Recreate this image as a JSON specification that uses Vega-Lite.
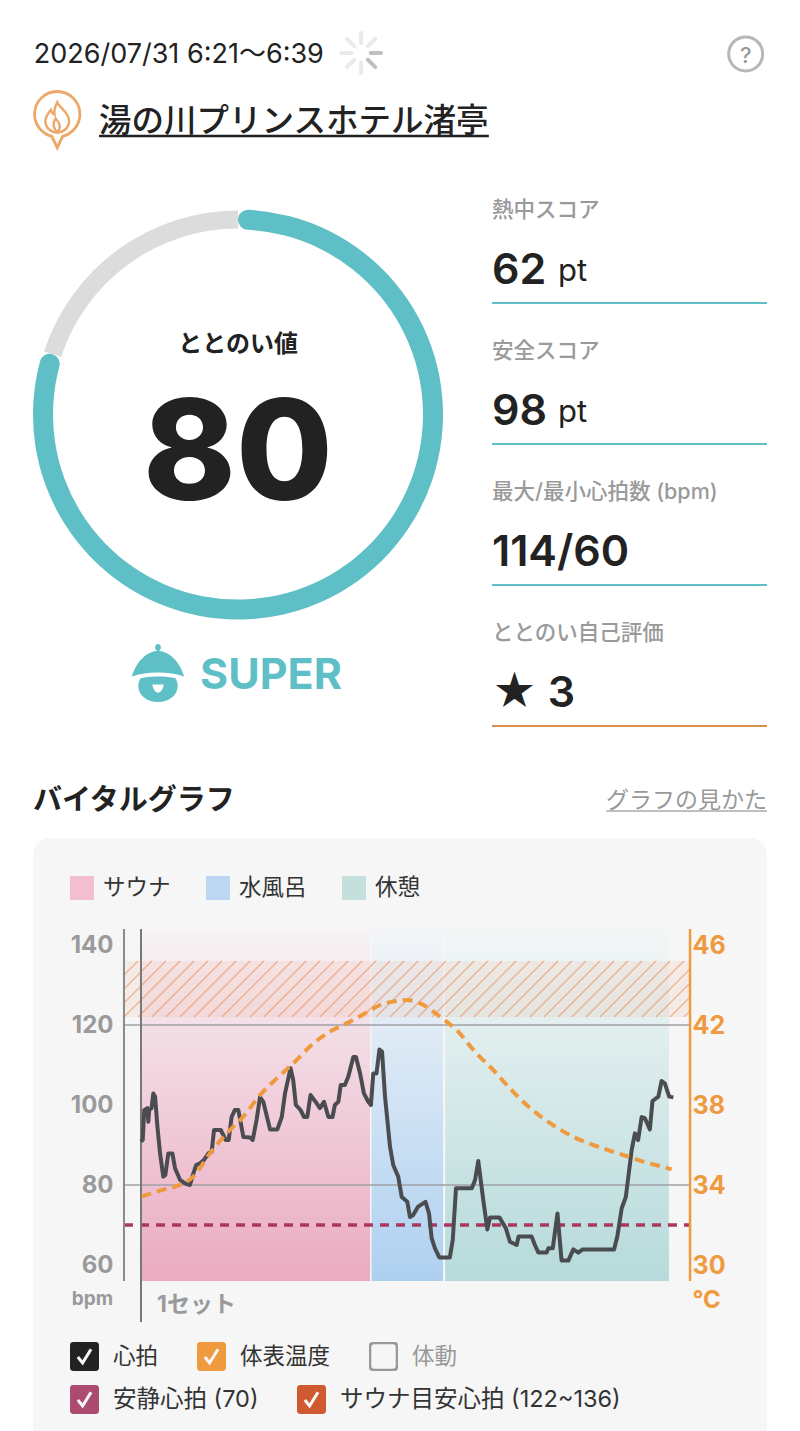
{
  "$schema": "https://vega.github.io/schema/vega-lite/v6.json",
  "background": "#ffffff",
  "padding": {"left": 28, "right": 38, "top": 0, "bottom": 0},
  "bounds": "flush",
  "spacing": 0,
  "config": {
    "font": "Inter, 'Noto Sans CJK JP'",
    "view": {"stroke": null},
    "axis": {"disable": true}
  },
  "datasets": {
    "bands": [
      {"phase": "サウナ", "start": 0, "end": 7.81},
      {"phase": "水風呂", "start": 7.86, "end": 10.3},
      {"phase": "休憩", "start": 10.37, "end": 18.0}
    ],
    "hatch": [
      {"m1": -0.58, "b1": 132.5, "m2": -0.1, "b2": 136},
      {"m1": -0.58, "b1": 129, "m2": 0.37, "b2": 136},
      {"m1": -0.58, "b1": 125.5, "m2": 0.85, "b2": 136},
      {"m1": -0.58, "b1": 122, "m2": 1.33, "b2": 136},
      {"m1": -0.1, "b1": 122, "m2": 1.81, "b2": 136},
      {"m1": 0.37, "b1": 122, "m2": 2.28, "b2": 136},
      {"m1": 0.85, "b1": 122, "m2": 2.76, "b2": 136},
      {"m1": 1.33, "b1": 122, "m2": 3.24, "b2": 136},
      {"m1": 1.81, "b1": 122, "m2": 3.72, "b2": 136},
      {"m1": 2.28, "b1": 122, "m2": 4.19, "b2": 136},
      {"m1": 2.76, "b1": 122, "m2": 4.67, "b2": 136},
      {"m1": 3.24, "b1": 122, "m2": 5.15, "b2": 136},
      {"m1": 3.72, "b1": 122, "m2": 5.63, "b2": 136},
      {"m1": 4.19, "b1": 122, "m2": 6.1, "b2": 136},
      {"m1": 4.67, "b1": 122, "m2": 6.58, "b2": 136},
      {"m1": 5.15, "b1": 122, "m2": 7.06, "b2": 136},
      {"m1": 5.63, "b1": 122, "m2": 7.54, "b2": 136},
      {"m1": 6.1, "b1": 122, "m2": 8.01, "b2": 136},
      {"m1": 6.58, "b1": 122, "m2": 8.49, "b2": 136},
      {"m1": 7.06, "b1": 122, "m2": 8.97, "b2": 136},
      {"m1": 7.54, "b1": 122, "m2": 9.45, "b2": 136},
      {"m1": 8.01, "b1": 122, "m2": 9.92, "b2": 136},
      {"m1": 8.49, "b1": 122, "m2": 10.4, "b2": 136},
      {"m1": 8.97, "b1": 122, "m2": 10.88, "b2": 136},
      {"m1": 9.45, "b1": 122, "m2": 11.36, "b2": 136},
      {"m1": 9.92, "b1": 122, "m2": 11.83, "b2": 136},
      {"m1": 10.4, "b1": 122, "m2": 12.31, "b2": 136},
      {"m1": 10.88, "b1": 122, "m2": 12.79, "b2": 136},
      {"m1": 11.35, "b1": 122, "m2": 13.26, "b2": 136},
      {"m1": 11.83, "b1": 122, "m2": 13.74, "b2": 136},
      {"m1": 12.31, "b1": 122, "m2": 14.22, "b2": 136},
      {"m1": 12.78, "b1": 122, "m2": 14.69, "b2": 136},
      {"m1": 13.26, "b1": 122, "m2": 15.17, "b2": 136},
      {"m1": 13.74, "b1": 122, "m2": 15.65, "b2": 136},
      {"m1": 14.22, "b1": 122, "m2": 16.13, "b2": 136},
      {"m1": 14.69, "b1": 122, "m2": 16.6, "b2": 136},
      {"m1": 15.17, "b1": 122, "m2": 17.08, "b2": 136},
      {"m1": 15.65, "b1": 122, "m2": 17.56, "b2": 136},
      {"m1": 16.13, "b1": 122, "m2": 18.04, "b2": 136},
      {"m1": 16.6, "b1": 122, "m2": 18.51, "b2": 136},
      {"m1": 17.08, "b1": 122, "m2": 18.72, "b2": 134},
      {"m1": 17.56, "b1": 122, "m2": 18.72, "b2": 130.5},
      {"m1": 18.04, "b1": 122, "m2": 18.72, "b2": 127},
      {"m1": 18.51, "b1": 122, "m2": 18.72, "b2": 123.5}
    ],
    "heart": [
      {"minute": 0, "bpm": 90.8}, {"minute": 0.06, "bpm": 91.3}, {"minute": 0.11, "bpm": 98.75}, {"minute": 0.22, "bpm": 99.2},
      {"minute": 0.25, "bpm": 95.8}, {"minute": 0.28, "bpm": 98.75}, {"minute": 0.36, "bpm": 99.2}, {"minute": 0.42, "bpm": 102.9},
      {"minute": 0.48, "bpm": 102.1}, {"minute": 0.56, "bpm": 94.6}, {"minute": 0.65, "bpm": 87.9}, {"minute": 0.76, "bpm": 82.1},
      {"minute": 0.83, "bpm": 82.5}, {"minute": 0.93, "bpm": 87.9}, {"minute": 1.07, "bpm": 87.9}, {"minute": 1.16, "bpm": 84.2},
      {"minute": 1.33, "bpm": 81.3}, {"minute": 1.5, "bpm": 80.4}, {"minute": 1.67, "bpm": 80}, {"minute": 1.75, "bpm": 82.1},
      {"minute": 1.88, "bpm": 85}, {"minute": 2.01, "bpm": 85.4}, {"minute": 2.15, "bpm": 86.3}, {"minute": 2.3, "bpm": 87.9},
      {"minute": 2.41, "bpm": 88.3}, {"minute": 2.49, "bpm": 93.75}, {"minute": 2.72, "bpm": 93.75}, {"minute": 2.89, "bpm": 91.25},
      {"minute": 2.99, "bpm": 91.25}, {"minute": 3.09, "bpm": 97}, {"minute": 3.2, "bpm": 98.75}, {"minute": 3.32, "bpm": 98.75},
      {"minute": 3.49, "bpm": 92}, {"minute": 3.72, "bpm": 91.9}, {"minute": 3.81, "bpm": 91.25}, {"minute": 3.94, "bpm": 96.25},
      {"minute": 4.06, "bpm": 102}, {"minute": 4.17, "bpm": 100.8}, {"minute": 4.4, "bpm": 93.9}, {"minute": 4.65, "bpm": 93.9},
      {"minute": 4.8, "bpm": 97}, {"minute": 4.91, "bpm": 102.9}, {"minute": 5.1, "bpm": 109.2}, {"minute": 5.19, "bpm": 106.25},
      {"minute": 5.28, "bpm": 100}, {"minute": 5.44, "bpm": 98.75}, {"minute": 5.56, "bpm": 97}, {"minute": 5.67, "bpm": 97},
      {"minute": 5.78, "bpm": 102.5}, {"minute": 5.99, "bpm": 100.4}, {"minute": 6.1, "bpm": 99.2}, {"minute": 6.24, "bpm": 100.8},
      {"minute": 6.39, "bpm": 97}, {"minute": 6.53, "bpm": 97}, {"minute": 6.61, "bpm": 100}, {"minute": 6.73, "bpm": 100.8},
      {"minute": 6.81, "bpm": 105}, {"minute": 6.95, "bpm": 105}, {"minute": 7.07, "bpm": 107.1}, {"minute": 7.24, "bpm": 112},
      {"minute": 7.33, "bpm": 112}, {"minute": 7.47, "bpm": 107.9}, {"minute": 7.6, "bpm": 102.9}, {"minute": 7.75, "bpm": 100.8},
      {"minute": 7.84, "bpm": 100}, {"minute": 7.92, "bpm": 107.9}, {"minute": 8.03, "bpm": 107.9}, {"minute": 8.13, "bpm": 113.9},
      {"minute": 8.22, "bpm": 113.3}, {"minute": 8.32, "bpm": 102.1}, {"minute": 8.49, "bpm": 89.6}, {"minute": 8.6, "bpm": 85},
      {"minute": 8.77, "bpm": 82.1}, {"minute": 8.89, "bpm": 77}, {"minute": 9.08, "bpm": 75.8}, {"minute": 9.17, "bpm": 72},
      {"minute": 9.28, "bpm": 72.5}, {"minute": 9.45, "bpm": 74.6}, {"minute": 9.7, "bpm": 75.8}, {"minute": 9.82, "bpm": 72.9},
      {"minute": 9.91, "bpm": 66.7}, {"minute": 10.02, "bpm": 64.2}, {"minute": 10.17, "bpm": 61.9}, {"minute": 10.53, "bpm": 61.9},
      {"minute": 10.63, "bpm": 66.25}, {"minute": 10.74, "bpm": 79.2}, {"minute": 11.28, "bpm": 79.2}, {"minute": 11.39, "bpm": 81.25},
      {"minute": 11.5, "bpm": 86}, {"minute": 11.67, "bpm": 76.25}, {"minute": 11.81, "bpm": 68.9}, {"minute": 11.9, "bpm": 71.9},
      {"minute": 12.22, "bpm": 71.9}, {"minute": 12.44, "bpm": 69.2}, {"minute": 12.58, "bpm": 65.8}, {"minute": 12.81, "bpm": 65},
      {"minute": 12.87, "bpm": 67.1}, {"minute": 13.32, "bpm": 67.1}, {"minute": 13.43, "bpm": 65}, {"minute": 13.55, "bpm": 63.1},
      {"minute": 13.83, "bpm": 63.1}, {"minute": 13.89, "bpm": 64.2}, {"minute": 14.04, "bpm": 64.2}, {"minute": 14.2, "bpm": 72.9},
      {"minute": 14.34, "bpm": 61.1}, {"minute": 14.57, "bpm": 61.1}, {"minute": 14.74, "bpm": 63.9}, {"minute": 14.91, "bpm": 63.1},
      {"minute": 15.06, "bpm": 63.9}, {"minute": 16.13, "bpm": 63.9}, {"minute": 16.24, "bpm": 67.1}, {"minute": 16.39, "bpm": 74.2},
      {"minute": 16.53, "bpm": 77}, {"minute": 16.73, "bpm": 88.75}, {"minute": 16.84, "bpm": 92.9}, {"minute": 16.95, "bpm": 91.25},
      {"minute": 17.07, "bpm": 97}, {"minute": 17.18, "bpm": 96.7}, {"minute": 17.35, "bpm": 93.9}, {"minute": 17.44, "bpm": 101},
      {"minute": 17.64, "bpm": 102.1}, {"minute": 17.75, "bpm": 106}, {"minute": 17.86, "bpm": 105.4}, {"minute": 18.01, "bpm": 102.1},
      {"minute": 18.15, "bpm": 101.9}
    ],
    "skin": [
      {"minute": 0.02, "temp": 33.42}, {"minute": 0.65, "temp": 33.72}, {"minute": 1.16, "temp": 33.92}, {"minute": 1.78, "temp": 34.42},
      {"minute": 2.35, "temp": 35.58}, {"minute": 2.92, "temp": 36.58}, {"minute": 3.49, "temp": 37.42}, {"minute": 4.06, "temp": 38.5},
      {"minute": 4.63, "temp": 39.33}, {"minute": 5.19, "temp": 40.08}, {"minute": 5.88, "temp": 41.08}, {"minute": 6.44, "temp": 41.67},
      {"minute": 7.01, "temp": 42.08}, {"minute": 7.81, "temp": 42.72}, {"minute": 8.15, "temp": 43}, {"minute": 8.6, "temp": 43.17},
      {"minute": 9.06, "temp": 43.25}, {"minute": 9.63, "temp": 43}, {"minute": 10.19, "temp": 42.42}, {"minute": 10.76, "temp": 41.75},
      {"minute": 11.44, "temp": 40.58}, {"minute": 12.01, "temp": 39.75}, {"minute": 12.58, "temp": 38.83}, {"minute": 13.15, "temp": 38},
      {"minute": 13.72, "temp": 37.33}, {"minute": 14.28, "temp": 36.78}, {"minute": 14.85, "temp": 36.33}, {"minute": 15.42, "temp": 36},
      {"minute": 15.98, "temp": 35.72}, {"minute": 16.55, "temp": 35.45}, {"minute": 17.11, "temp": 35.17}, {"minute": 17.68, "temp": 34.95},
      {"minute": 18.09, "temp": 34.78}
    ]
  },
  "vconcat": [
    {
      "width": 734,
      "height": 162,
      "data": {"values": [{"date": "2026/07/31 6:21〜6:39", "venue": "湯の川プリンスホテル渚亭"}]},
      "layer": [
        {
          "mark": {"type": "text", "align": "left", "baseline": "middle", "fontSize": 27, "color": "#222222"},
          "encoding": {
            "x": {"datum": 0.001, "type": "quantitative", "scale": {"domain": [0, 1], "nice": false, "zero": false}},
            "y": {"datum": 0.34, "type": "quantitative", "scale": {"domain": [0, 1], "nice": false, "zero": false, "reverse": true}},
            "text": {"field": "date"}
          }
        },
        {
          "mark": {"type": "point", "filled": false, "size": 6400, "stroke": "#e2e2e2", "strokeWidth": 4, "strokeCap": "round", "shape": "M0,-.24L0,-.5M-.24,0L-.5,0M0,.24L0,.5M-.17,-.17L-.354,-.354M-.17,.17L-.354,.354M.17,-.17L.354,-.354"},
          "encoding": {"x": {"datum": 0.447, "type": "quantitative"}, "y": {"datum": 0.327, "type": "quantitative"}}
        },
        {
          "mark": {"type": "point", "filled": false, "size": 6400, "stroke": "#a6a6a6", "strokeWidth": 4, "strokeCap": "round", "shape": "M.24,0L.5,0M.17,.17L.354,.354"},
          "encoding": {"x": {"datum": 0.447, "type": "quantitative"}, "y": {"datum": 0.327, "type": "quantitative"}}
        },
        {
          "mark": {"type": "point", "shape": "circle", "filled": false, "size": 1156, "stroke": "#999999", "strokeWidth": 3},
          "encoding": {"x": {"datum": 0.971, "type": "quantitative"}, "y": {"datum": 0.333, "type": "quantitative"}}
        },
        {
          "mark": {"type": "text", "text": "?", "fontSize": 22, "fontWeight": 500, "color": "#999999", "baseline": "middle"},
          "encoding": {"x": {"datum": 0.971, "type": "quantitative"}, "y": {"datum": 0.345, "type": "quantitative"}}
        },
        {
          "mark": {"type": "point", "filled": false, "size": 11664, "stroke": "#e5822a", "strokeWidth": 2.8, "shape": "M-.42,-.1C-.42,-.332 -.232,-.52 0,-.52C.232,-.52 .42,-.332 .42,-.1C.42,.1 .28,.26 .1,.31L0,.52L-.1,.31C-.28,.26 -.42,.1 -.42,-.1Z"},
          "encoding": {"x": {"datum": 0.033, "type": "quantitative"}, "y": {"datum": 0.738, "type": "quantitative"}}
        },
        {
          "mark": {"type": "point", "filled": false, "size": 11664, "stroke": "#e5822a", "strokeWidth": 2.4, "shape": "M0,-.32C.05,-.2 .22,-.14 .22,.03C.22,.16 .1,.24 0,.24C-.1,.24 -.22,.16 -.22,.03C-.22,-.06 -.16,-.12 -.12,-.18C-.1,-.12 -.07,-.1 -.05,-.09C-.07,-.18 -.03,-.26 0,-.32ZM0,.24C-.08,.14 -.09,.08 -.03,-.02C.06,.07 .07,.16 0,.24Z"},
          "encoding": {"x": {"datum": 0.033, "type": "quantitative"}, "y": {"datum": 0.738, "type": "quantitative"}}
        },
        {
          "mark": {"type": "text", "align": "left", "baseline": "middle", "fontSize": 32.5, "fontWeight": 500, "color": "#222222"},
          "encoding": {"x": {"datum": 0.09, "type": "quantitative"}, "y": {"datum": 0.753, "type": "quantitative"}, "text": {"field": "venue"}}
        },
        {
          "mark": {"type": "rule", "color": "#222222", "strokeWidth": 2.5},
          "encoding": {"x": {"datum": 0.09, "type": "quantitative"}, "x2": {"datum": 0.621}, "y": {"datum": 0.84, "type": "quantitative"}}
        }
      ]
    },
    {
      "width": 734,
      "height": 564,
      "resolve": {"scale": {"y": "independent"}},
      "layer": [
        {
          "data": {"values": [{"part": "score", "from": 0, "to": 80, "score": 80, "rank": "SUPER"}, {"part": "rest", "from": 80, "to": 100, "score": 80, "rank": "SUPER"}]},
          "layer": [
            {
              "transform": [{"filter": "datum.part === 'rest'"}],
              "mark": {"type": "arc", "innerRadius": 186, "outerRadius": 204, "color": "#dcdcdc"},
              "encoding": {
                "x": {"datum": 0.2793, "type": "quantitative", "scale": {"domain": [0, 1], "nice": false, "zero": false}},
                "y": {"datum": 0.4478, "type": "quantitative", "scale": {"domain": [0, 1], "nice": false, "zero": false, "reverse": true}},
                "theta": {"field": "from", "type": "quantitative", "stack": null, "scale": {"domain": [0, 100], "range": [0, 6.2832]}},
                "theta2": {"field": "to"}
              }
            },
            {
              "transform": [{"filter": "datum.part === 'score'"}],
              "mark": {"type": "arc", "innerRadius": 185, "outerRadius": 205, "cornerRadius": 10, "color": "#5fbfc6"},
              "encoding": {
                "x": {"datum": 0.2793, "type": "quantitative"},
                "y": {"datum": 0.4478, "type": "quantitative"},
                "theta": {"field": "from", "type": "quantitative", "stack": null},
                "theta2": {"field": "to"}
              }
            },
            {
              "transform": [{"filter": "datum.part === 'score'"}],
              "mark": {"type": "text", "text": "ととのい値", "fontSize": 24, "fontWeight": 600, "color": "#222222", "baseline": "middle"},
              "encoding": {"x": {"datum": 0.2793, "type": "quantitative"}, "y": {"datum": 0.3245, "type": "quantitative"}}
            },
            {
              "transform": [{"filter": "datum.part === 'score'"}],
              "mark": {"type": "text", "fontSize": 140, "fontWeight": 800, "color": "#222222", "baseline": "middle"},
              "encoding": {"x": {"datum": 0.2793, "type": "quantitative"}, "y": {"datum": 0.5248, "type": "quantitative"}, "text": {"field": "score"}}
            },
            {
              "transform": [{"filter": "datum.part === 'score'"}],
              "mark": {"type": "point", "filled": true, "size": 13456, "color": "#5fbfc6", "opacity": 1, "shape": "M-.45,.06C-.36,-.25 -.15,-.38 0,-.38C.15,-.38 .36,-.25 .45,.06C.2,-.03 -.2,-.03 -.45,.06ZM-.3,.09C-.15,.05 .15,.05 .3,.09C.33,.14 .34,.18 .34,.22C.34,.38 .2,.5 0,.5C-.2,.5 -.34,.38 -.34,.22C-.34,.18 -.33,.14 -.3,.09ZM-.1,.2C-.08,.3 -.04,.34 0,.34C.04,.34 .08,.3 .1,.2ZM-.05,-.44C-.05,-.47 -.03,-.5 0,-.5C.03,-.5 .05,-.47 .05,-.44C.05,-.41 .03,-.38 0,-.38C-.03,-.38 -.05,-.41 -.05,-.44Z"},
              "encoding": {"x": {"datum": 0.1703, "type": "quantitative"}, "y": {"datum": 0.906, "type": "quantitative"}}
            },
            {
              "transform": [{"filter": "datum.part === 'score'"}],
              "mark": {"type": "text", "fontSize": 43, "fontWeight": 700, "color": "#5fbfc6", "baseline": "middle"},
              "encoding": {"x": {"datum": 0.3243, "type": "quantitative"}, "y": {"datum": 0.9113, "type": "quantitative"}, "text": {"field": "rank"}}
            }
          ]
        },
        {
          "data": {"values": [
            {"metric": "熱中スコア", "value": "62", "unit": "pt"},
            {"metric": "安全スコア", "value": "98", "unit": "pt"},
            {"metric": "最大/最小心拍数 (bpm)", "value": "114/60", "unit": ""},
            {"metric": "ととのい自己評価", "value": "★ 3", "unit": ""}
          ]},
          "layer": [
            {
              "mark": {"type": "text", "align": "left", "baseline": "middle", "fontSize": 21.5, "fontWeight": 500, "color": "#9a9a9a"},
              "encoding": {
                "x": {"datum": 0.6253, "type": "quantitative"},
                "y": {"field": "metric", "type": "nominal", "sort": null, "bandPosition": 0.347, "scale": {"paddingInner": 0, "paddingOuter": 0}},
                "text": {"field": "metric"}
              }
            },
            {
              "mark": {"type": "text", "align": "left", "baseline": "middle", "fontSize": 43, "fontWeight": 600, "color": "#222222"},
              "encoding": {
                "x": {"datum": 0.6253, "type": "quantitative"},
                "y": {"field": "metric", "type": "nominal", "sort": null, "bandPosition": 0.773},
                "text": {"field": "value"}
              }
            },
            {
              "transform": [{"filter": "datum.unit !== ''"}],
              "mark": {"type": "text", "align": "left", "baseline": "middle", "fontSize": 31, "color": "#222222", "dx": 66},
              "encoding": {
                "x": {"datum": 0.6253, "type": "quantitative"},
                "y": {"field": "metric", "type": "nominal", "sort": null, "bandPosition": 0.778},
                "text": {"field": "unit"}
              }
            },
            {
              "mark": {"type": "rule", "strokeWidth": 2},
              "encoding": {
                "x": {"datum": 0.6253, "type": "quantitative"},
                "x2": {"datum": 1},
                "y": {"field": "metric", "type": "nominal", "sort": null, "bandPosition": 1},
                "color": {"condition": {"test": "datum.metric === 'ととのい自己評価'", "value": "#d89050"}, "value": "#5fbfc6"}
              }
            }
          ]
        }
      ]
    },
    {
      "width": 734,
      "height": 112,
      "data": {"values": [{"section": "バイタルグラフ", "link": "グラフの見かた"}]},
      "layer": [
        {
          "mark": {"type": "text", "align": "left", "baseline": "middle", "fontSize": 29, "fontWeight": 700, "color": "#222222"},
          "encoding": {
            "x": {"datum": 0, "type": "quantitative", "scale": {"domain": [0, 1], "nice": false, "zero": false}},
            "y": {"datum": 0.67, "type": "quantitative", "scale": {"domain": [0, 1], "nice": false, "zero": false, "reverse": true}},
            "text": {"field": "section"}
          }
        },
        {
          "mark": {"type": "text", "align": "right", "baseline": "middle", "fontSize": 23, "color": "#999999"},
          "encoding": {"x": {"datum": 1, "type": "quantitative"}, "y": {"datum": 0.67, "type": "quantitative"}, "text": {"field": "link"}}
        },
        {
          "mark": {"type": "rule", "color": "#aaaaaa", "strokeWidth": 1.5},
          "encoding": {"x": {"datum": 0.781, "type": "quantitative"}, "x2": {"datum": 1}, "y": {"datum": 0.759, "type": "quantitative"}}
        }
      ]
    },
    {
      "width": 734,
      "height": 593,
      "resolve": {"scale": {"y": "independent"}},
      "layer": [
        {
          "layer": [
            {
              "data": {"values": [{"card": "バイタル"}]},
              "mark": {"type": "rect", "fill": "#f6f6f6", "cornerRadiusTopLeft": 18, "cornerRadiusTopRight": 18},
              "encoding": {
                "x": {"datum": -3.682, "type": "quantitative", "scale": {"domain": [-3.682, 21.344], "nice": false, "zero": false}},
                "x2": {"datum": 21.344},
                "y": {"datum": 18.5, "type": "quantitative", "scale": {"domain": [18.5, 166.75], "nice": false, "zero": false}},
                "y2": {"datum": 166.75}
              }
            },
            {
              "data": {"name": "bands"},
              "transform": [{"filter": "datum.phase === 'サウナ'"}],
              "mark": {"type": "rect", "fill": {"gradient": "linear", "x1": 0, "y1": 0, "x2": 0, "y2": 1, "stops": [{"offset": 0, "color": "#f6f3f5"}, {"offset": 1, "color": "#ebaac1"}]}},
              "encoding": {"x": {"field": "start", "type": "quantitative"}, "x2": {"field": "end"}, "y": {"datum": 56, "type": "quantitative"}, "y2": {"datum": 144}}
            },
            {
              "data": {"name": "bands"},
              "transform": [{"filter": "datum.phase === '水風呂'"}],
              "mark": {"type": "rect", "fill": {"gradient": "linear", "x1": 0, "y1": 0, "x2": 0, "y2": 1, "stops": [{"offset": 0, "color": "#f3f5f8"}, {"offset": 1, "color": "#aed0f0"}]}},
              "encoding": {"x": {"field": "start", "type": "quantitative"}, "x2": {"field": "end"}, "y": {"datum": 56, "type": "quantitative"}, "y2": {"datum": 144}}
            },
            {
              "data": {"name": "bands"},
              "transform": [{"filter": "datum.phase === '休憩'"}],
              "mark": {"type": "rect", "fill": {"gradient": "linear", "x1": 0, "y1": 0, "x2": 0, "y2": 1, "stops": [{"offset": 0, "color": "#f3f6f6"}, {"offset": 1, "color": "#b6dadb"}]}},
              "encoding": {"x": {"field": "start", "type": "quantitative"}, "x2": {"field": "end"}, "y": {"datum": 56, "type": "quantitative"}, "y2": {"datum": 144}}
            },
            {
              "data": {"values": [{"low": 122, "high": 136}]},
              "mark": {"type": "rect", "fill": "#ee9f72", "opacity": 0.12},
              "encoding": {"x": {"datum": -0.58, "type": "quantitative"}, "x2": {"datum": 18.72}, "y": {"field": "low", "type": "quantitative"}, "y2": {"field": "high"}}
            },
            {
              "data": {"name": "hatch"},
              "mark": {"type": "rule", "color": "#e98a55", "strokeWidth": 1.2, "opacity": 0.6},
              "encoding": {"x": {"field": "m1", "type": "quantitative"}, "x2": {"field": "m2"}, "y": {"field": "b1", "type": "quantitative"}, "y2": {"field": "b2"}}
            },
            {
              "data": {"values": [{"bpm": 80}, {"bpm": 120}]},
              "mark": {"type": "rule", "color": "#a0a0a4", "strokeWidth": 1.5},
              "encoding": {"x": {"datum": -0.58, "type": "quantitative"}, "x2": {"datum": 18.72}, "y": {"field": "bpm", "type": "quantitative"}}
            },
            {
              "data": {"values": [{"bpm": 70}]},
              "mark": {"type": "rule", "color": "#a8385c", "strokeWidth": 3.5, "strokeDash": [9, 7]},
              "encoding": {"x": {"datum": -0.58, "type": "quantitative"}, "x2": {"datum": 18.72}, "y": {"field": "bpm", "type": "quantitative"}}
            },
            {
              "data": {"values": [{"from": 56, "to": 144}]},
              "mark": {"type": "rule", "color": "#8a8a8a", "strokeWidth": 2},
              "encoding": {"x": {"datum": -0.58, "type": "quantitative"}, "y": {"field": "from", "type": "quantitative"}, "y2": {"field": "to"}}
            },
            {
              "data": {"values": [{"from": 56, "to": 144}]},
              "mark": {"type": "rule", "color": "#ef9a3e", "strokeWidth": 2.5},
              "encoding": {"x": {"datum": 18.72, "type": "quantitative"}, "y": {"field": "from", "type": "quantitative"}, "y2": {"field": "to"}}
            },
            {
              "data": {"values": [{"from": 45.75, "to": 144}]},
              "mark": {"type": "rule", "color": "#77787a", "strokeWidth": 2},
              "encoding": {"x": {"datum": 0, "type": "quantitative"}, "y": {"field": "from", "type": "quantitative"}, "y2": {"field": "to"}}
            },
            {
              "data": {"name": "heart"},
              "mark": {"type": "line", "color": "#4a4c50", "strokeWidth": 4, "strokeJoin": "round"},
              "encoding": {"x": {"field": "minute", "type": "quantitative"}, "y": {"field": "bpm", "type": "quantitative"}}
            },
            {
              "data": {"values": [{"set": "1セット", "start": 0}]},
              "mark": {"type": "text", "align": "left", "baseline": "middle", "fontSize": 23, "fontWeight": 700, "color": "#9a9a9a", "dx": 16},
              "encoding": {"x": {"field": "start", "type": "quantitative"}, "y": {"datum": 50, "type": "quantitative"}, "text": {"field": "set"}}
            },
            {
              "data": {"values": [{"phase": "サウナ"}, {"phase": "水風呂"}, {"phase": "休憩"}]},
              "mark": {"type": "point", "filled": false, "opacity": 0, "shape": "square"},
              "encoding": {
                "stroke": {
                  "field": "phase", "type": "nominal",
                  "scale": {"domain": ["サウナ", "水風呂", "休憩"], "range": ["#f3bfd0", "#bcd7f1", "#c4e0dc"]},
                  "legend": {
                    "orient": "none", "legendX": 37, "legendY": 876, "title": null, "direction": "horizontal", "columns": 3, "columnPadding": 17,
                    "symbolType": "square", "symbolSize": 144, "symbolStrokeWidth": 12, "symbolOpacity": 1,
                    "labelFontSize": 22.5, "labelColor": "#333333", "labelOffset": 9, "labelLimit": 300, "padding": 0
                  }
                }
              }
            },
            {
              "data": {"values": [{"item": "心拍"}, {"item": "体表温度"}, {"item": "体動"}]},
              "mark": {"type": "point", "filled": true, "opacity": 0, "shape": "square"},
              "encoding": {
                "color": {
                  "field": "item", "type": "nominal",
                  "scale": {"domain": ["心拍", "体表温度", "体動"], "range": ["#222222", "#ef9a3e", "#999999"]},
                  "legend": {
                    "orient": "none", "legendX": 37, "legendY": 1342, "title": null, "direction": "horizontal", "columns": 3, "columnPadding": 38,
                    "symbolSize": 841, "symbolStrokeWidth": 0, "symbolOpacity": 1,
                    "labelFontSize": 22.5, "labelOffset": 14, "labelLimit": 300, "padding": 0,
                    "labelColor": {"expr": "datum.value === '体動' ? '#999999' : '#333333'"},
                    "encode": {
                      "symbols": {
                        "update": {
                          "shape": {"signal": "datum.value === '体動' ? 'M-.76,-1L.76,-1Q1,-1 1,-.76L1,.76Q1,1 .76,1L-.76,1Q-1,1 -1,.76L-1,-.76Q-1,-1 -.76,-1ZM-.64,-.84Q-.84,-.84 -.84,-.64L-.84,.64Q-.84,.84 -.64,.84L.64,.84Q.84,.84 .84,.64L.84,-.64Q.84,-.84 .64,-.84Z' : 'M-.76,-1L.76,-1Q1,-1 1,-.76L1,.76Q1,1 .76,1L-.76,1Q-1,1 -1,.76L-1,-.76Q-1,-1 -.76,-1ZM-.54,.1L-.12,.62L.54,-.44L.36,-.56L-.14,.26L-.38,-.04Z'"}
                        }
                      }
                    }
                  }
                }
              }
            },
            {
              "data": {"values": [{"item": "安静心拍 (70)"}, {"item": "サウナ目安心拍 (122~136)"}]},
              "mark": {"type": "point", "filled": true, "opacity": 0, "shape": "M-.76,-1L.76,-1Q1,-1 1,-.76L1,.76Q1,1 .76,1L-.76,1Q-1,1 -1,.76L-1,-.76Q-1,-1 -.76,-1ZM-.54,.1L-.12,.62L.54,-.44L.36,-.56L-.14,.26L-.38,-.04Z"},
              "encoding": {
                "fill": {
                  "field": "item", "type": "nominal",
                  "scale": {"domain": ["安静心拍 (70)", "サウナ目安心拍 (122~136)"], "range": ["#ac4b6f", "#cf5a2f"]},
                  "legend": {
                    "orient": "none", "legendX": 37, "legendY": 1385, "title": null, "direction": "horizontal", "columns": 2, "columnPadding": 38,
                    "symbolType": "M-.76,-1L.76,-1Q1,-1 1,-.76L1,.76Q1,1 .76,1L-.76,1Q-1,1 -1,.76L-1,-.76Q-1,-1 -.76,-1ZM-.54,.1L-.12,.62L.54,-.44L.36,-.56L-.14,.26L-.38,-.04Z",
                    "symbolSize": 841, "symbolStrokeWidth": 0, "symbolOpacity": 1,
                    "labelFontSize": 23.5, "labelOffset": 14, "labelLimit": 400, "labelColor": "#333333", "padding": 0
                  }
                }
              }
            }
          ]
        },
        {
          "data": {"values": [{"tick": 60}, {"tick": 80}, {"tick": 100}, {"tick": 120}, {"tick": 140}]},
          "mark": {"type": "rule", "opacity": 0},
          "encoding": {
            "y": {
              "field": "tick",
              "type": "quantitative",
              "scale": {"domain": [18.5, 166.75], "nice": false, "zero": false},
              "axis": {
                "zindex": 1, "orient": "left", "values": [60, 80, 100, 120, 140], "offset": -91, "domain": false, "ticks": false, "grid": false,
                "labelPadding": 11, "labelFontSize": 24, "labelFontWeight": 700, "labelColor": "#9a9a9a",
                "title": "bpm", "titleAngle": 0, "titleX": -32, "titleY": 460, "titleAlign": "center", "titleBaseline": "middle",
                "titleFontSize": 19, "titleFontWeight": 700, "titleColor": "#9a9a9a"
              }
            }
          }
        },
        {
          "data": {"name": "skin"},
          "mark": {"type": "line", "color": "#ef9a3e", "strokeWidth": 4, "strokeDash": [10, 6], "interpolate": "monotone"},
          "encoding": {
            "x": {"field": "minute", "type": "quantitative"},
            "y": {
              "field": "temp",
              "type": "quantitative",
              "scale": {"domain": [21.7, 51.35], "nice": false, "zero": false},
              "axis": {
                "zindex": 1, "orient": "right", "values": [30, 34, 38, 42, 46], "offset": -77, "domain": false, "ticks": false, "grid": false,
                "labelPadding": 2, "labelFontSize": 25, "labelFontWeight": 700, "labelColor": "#ef9a3e",
                "title": "°C", "titleAngle": 0, "titleX": 2, "titleY": 462, "titleAlign": "left", "titleBaseline": "middle",
                "titleFontSize": 24, "titleFontWeight": 700, "titleColor": "#ef9a3e"
              }
            }
          }
        }
      ]
    }
  ]
}
